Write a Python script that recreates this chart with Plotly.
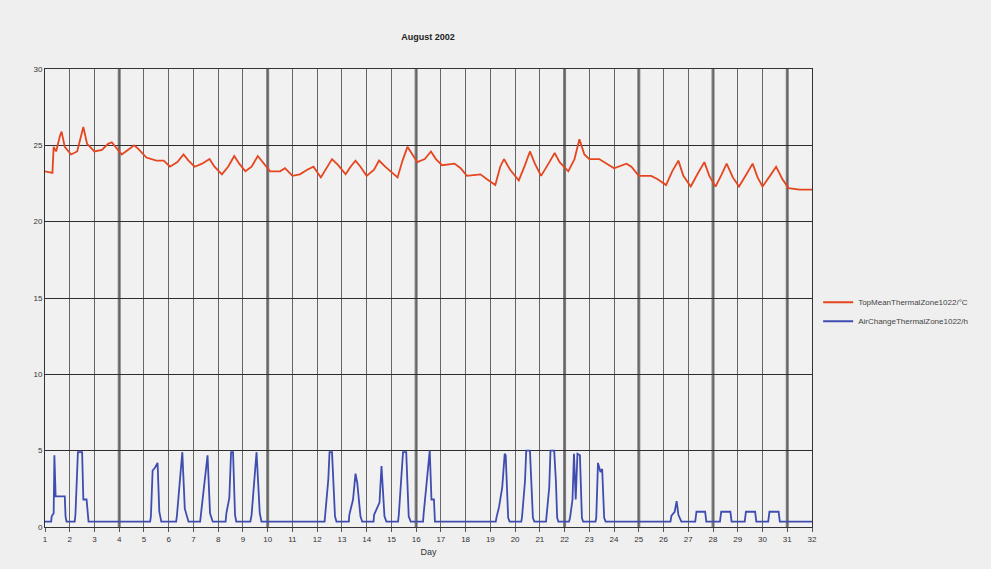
import plotly.graph_objects as go

# ---- data ----
title_text = "August 2002"
x_title = "Day"
series_names = ["TopMeanThermalZone1022/°C", "AirChangeThermalZone1022/h"]

day_ticks = list(range(1, 33))
y_ticks = [0, 5, 10, 15, 20, 25, 30]
bold_days = [4, 10, 16, 22, 25, 28, 31]

temp_day = [1.0, 1.3, 1.35, 1.45, 1.6, 1.67, 1.8, 2.05, 2.3, 2.45, 2.55, 2.7, 3.0, 3.3, 3.55, 3.7, 3.85,
            4.1, 4.35, 4.6, 4.75, 5.1, 5.5, 5.8, 6.05, 6.35, 6.6, 6.8, 7.05, 7.35, 7.65, 7.85, 8.15, 8.4,
            8.65, 8.85, 9.1, 9.35, 9.6, 9.8, 10.1, 10.5, 10.7, 11.0, 11.3, 11.6, 11.85, 12.15, 12.4, 12.6,
            12.85, 13.15, 13.35, 13.55, 13.75, 14.0, 14.3, 14.5, 14.75, 15.25, 15.45, 15.65, 15.85, 16.05,
            16.35, 16.6, 16.8, 17.05, 17.55, 17.8, 18.05, 18.6, 18.85, 19.2, 19.4, 19.55, 19.8, 20.15, 20.4,
            20.6, 20.8, 21.05, 21.35, 21.6, 21.8, 22.15, 22.4, 22.6, 22.8, 23.0, 23.4, 23.6, 24.0, 24.5,
            24.7, 25.0, 25.5, 25.75, 26.1, 26.35, 26.6, 26.8, 27.1, 27.4, 27.65, 27.85, 28.1, 28.35, 28.55,
            28.8, 29.05, 29.35, 29.6, 29.8, 30.0, 30.3, 30.55, 30.8, 31.05, 31.5, 32.0]
temp_val = [23.3, 23.2, 24.9, 24.6, 25.6, 25.9, 24.9, 24.4, 24.6, 25.5, 26.2, 25.1, 24.6, 24.7, 25.1, 25.2, 24.9,
            24.4, 24.7, 25.0, 24.8, 24.2, 24.0, 24.0, 23.6, 23.9, 24.4, 24.0, 23.6, 23.8, 24.1, 23.6, 23.1, 23.6,
            24.3, 23.8, 23.3, 23.6, 24.3, 23.9, 23.3, 23.3, 23.5, 23.0, 23.1, 23.4, 23.6, 22.9, 23.6, 24.1,
            23.7, 23.1, 23.6, 24.0, 23.6, 23.0, 23.4, 24.0, 23.6, 22.9, 24.0, 24.9, 24.4, 23.9,
            24.1, 24.6, 24.1, 23.7, 23.8, 23.5, 23.0, 23.1, 22.8, 22.4, 23.6, 24.1, 23.4, 22.7, 23.7,
            24.6, 23.8, 23.0, 23.8, 24.5, 23.9, 23.3, 24.1, 25.4, 24.4, 24.1, 24.1, 23.9, 23.5, 23.8,
            23.6, 23.0, 23.0, 22.8, 22.4, 23.3, 24.0, 23.0, 22.3, 23.2, 23.9, 23.0, 22.3, 23.1, 23.8,
            22.9, 22.3, 23.1, 23.8, 22.9, 22.3, 23.0, 23.6, 22.8, 22.2, 22.1, 22.1]

ach_day = [1.0, 1.25, 1.27, 1.35, 1.38, 1.43, 1.8, 1.83, 1.87,
           2.2, 2.23, 2.33, 2.5, 2.55, 2.68, 2.72, 2.76,
           5.25, 5.28, 5.35, 5.45, 5.55, 5.62, 5.7,
           6.3, 6.33, 6.45, 6.55, 6.65, 6.72, 6.8,
           7.27, 7.3, 7.42, 7.57, 7.67, 7.78,
           8.3, 8.33, 8.45, 8.52, 8.6, 8.68, 8.73,
           9.3, 9.35, 9.55, 9.68, 9.75,
           12.3, 12.33, 12.45, 12.5, 12.6, 12.72, 12.78,
           13.28, 13.3, 13.45, 13.55, 13.62, 13.75, 13.82,
           14.28, 14.3, 14.45, 14.52, 14.6, 14.72, 14.8,
           15.27, 15.3, 15.4, 15.47, 15.6, 15.7, 15.78,
           16.28, 16.3, 16.4, 16.55, 16.62, 16.72, 16.76,
           19.22, 19.25, 19.35, 19.48, 19.58, 19.62, 19.72, 19.78,
           20.25, 20.28, 20.4, 20.45, 20.6, 20.72, 20.78,
           21.25, 21.28, 21.38, 21.43, 21.58, 21.65, 21.7, 21.75,
           22.18, 22.22, 22.32, 22.38, 22.45, 22.52, 22.62, 22.7, 22.75,
           23.25, 23.28, 23.35, 23.45, 23.52, 23.6, 23.66,
           26.28, 26.32, 26.45, 26.53, 26.6, 26.72,
           27.28, 27.33, 27.68, 27.73,
           28.28, 28.33, 28.7, 28.75,
           29.28, 29.33, 29.7, 29.75,
           30.23, 30.28, 30.65, 30.7,
           32.0]
ach_val = [0.35, 0.35, 0.7, 0.9, 4.7, 2.0, 2.0, 0.7, 0.35,
           0.35, 0.8, 4.9, 4.9, 1.8, 1.8, 0.7, 0.35,
           0.35, 0.7, 3.7, 3.9, 4.2, 1.0, 0.35,
           0.35, 0.7, 2.9, 4.9, 1.2, 0.7, 0.35,
           0.35, 0.8, 2.5, 4.7, 0.9, 0.35,
           0.35, 0.9, 1.9, 4.9, 4.9, 0.8, 0.35,
           0.35, 0.8, 4.9, 0.9, 0.35,
           0.35, 0.9, 3.1, 4.9, 4.9, 0.7, 0.35,
           0.35, 0.8, 1.8, 3.5, 2.9, 0.7, 0.35,
           0.35, 0.8, 1.4, 1.6, 4.0, 0.7, 0.35,
           0.35, 0.8, 2.9, 4.9, 4.9, 0.7, 0.35,
           0.35, 0.8, 2.7, 5.0, 1.8, 1.8, 0.35,
           0.35, 0.65, 1.3, 2.6, 4.8, 4.7, 0.6, 0.35,
           0.35, 0.65, 3.0, 5.0, 5.0, 0.6, 0.35,
           0.35, 0.8, 2.6, 5.0, 5.0, 3.0, 0.6, 0.35,
           0.35, 0.6, 1.8, 4.8, 1.8, 4.8, 4.7, 0.6, 0.35,
           0.35, 0.6, 4.2, 3.6, 3.8, 0.6, 0.35,
           0.35, 0.75, 1.0, 1.7, 0.8, 0.35,
           0.35, 1.0, 1.0, 0.35,
           0.35, 1.0, 1.0, 0.35,
           0.35, 1.0, 1.0, 0.35,
           0.35, 1.0, 1.0, 0.35,
           0.35]

FONT = "Liberation Sans, Arial, sans-serif"

fig = go.Figure()
fig.add_trace(go.Scatter(x=temp_day, y=temp_val, mode="lines", name=series_names[0],
                         line=dict(color="#e5461f", width=1.8)))
fig.add_trace(go.Scatter(x=ach_day, y=ach_val, mode="lines", name=series_names[1],
                         line=dict(color="#3f4db0", width=1.8)))

for d in bold_days:
    fig.add_shape(type="line", xref="x", yref="paper", x0=d, x1=d, y0=0, y1=1,
                  line=dict(color="#7a7a7a", width=3), layer="below")

fig.update_layout(
    width=991, height=569,
    margin=dict(l=45, r=179, t=69, b=42),
    paper_bgcolor="#efefef", plot_bgcolor="#f1f1f1",
    font=dict(family=FONT, size=9, color="#333333"),
    title=dict(text="<b>" + title_text + "</b>", x=(45 + 383) / 991, xanchor="center",
               y=1 - 37 / 569, yanchor="middle", font=dict(size=9, color="#222222")),
    showlegend=True,
    legend=dict(x=1.008, y=0.47, xanchor="left", yanchor="middle", bgcolor="rgba(0,0,0,0)",
                font=dict(size=8, color="#444444"), tracegroupgap=0, itemwidth=30),
)
fig.update_xaxes(range=[1, 32], tickmode="array", tickvals=day_ticks,
                 ticktext=[str(d) for d in day_ticks],
                 showgrid=True, gridcolor="#666666", gridwidth=1,
                 showline=True, linecolor="#333333", linewidth=1, mirror=True,
                 ticks="outside", ticklen=4, tickcolor="#555555",
                 zeroline=False, tickfont=dict(size=8),
                 title=dict(text=x_title, font=dict(size=9), standoff=6))
fig.update_yaxes(range=[0, 30], tickmode="array", tickvals=y_ticks,
                 ticktext=[str(v) for v in y_ticks],
                 showgrid=True, gridcolor="#2e2e2e", gridwidth=1,
                 showline=True, linecolor="#333333", linewidth=1, mirror=True,
                 ticks="", zeroline=False, tickfont=dict(size=8))

fig.write_html("out.html")
